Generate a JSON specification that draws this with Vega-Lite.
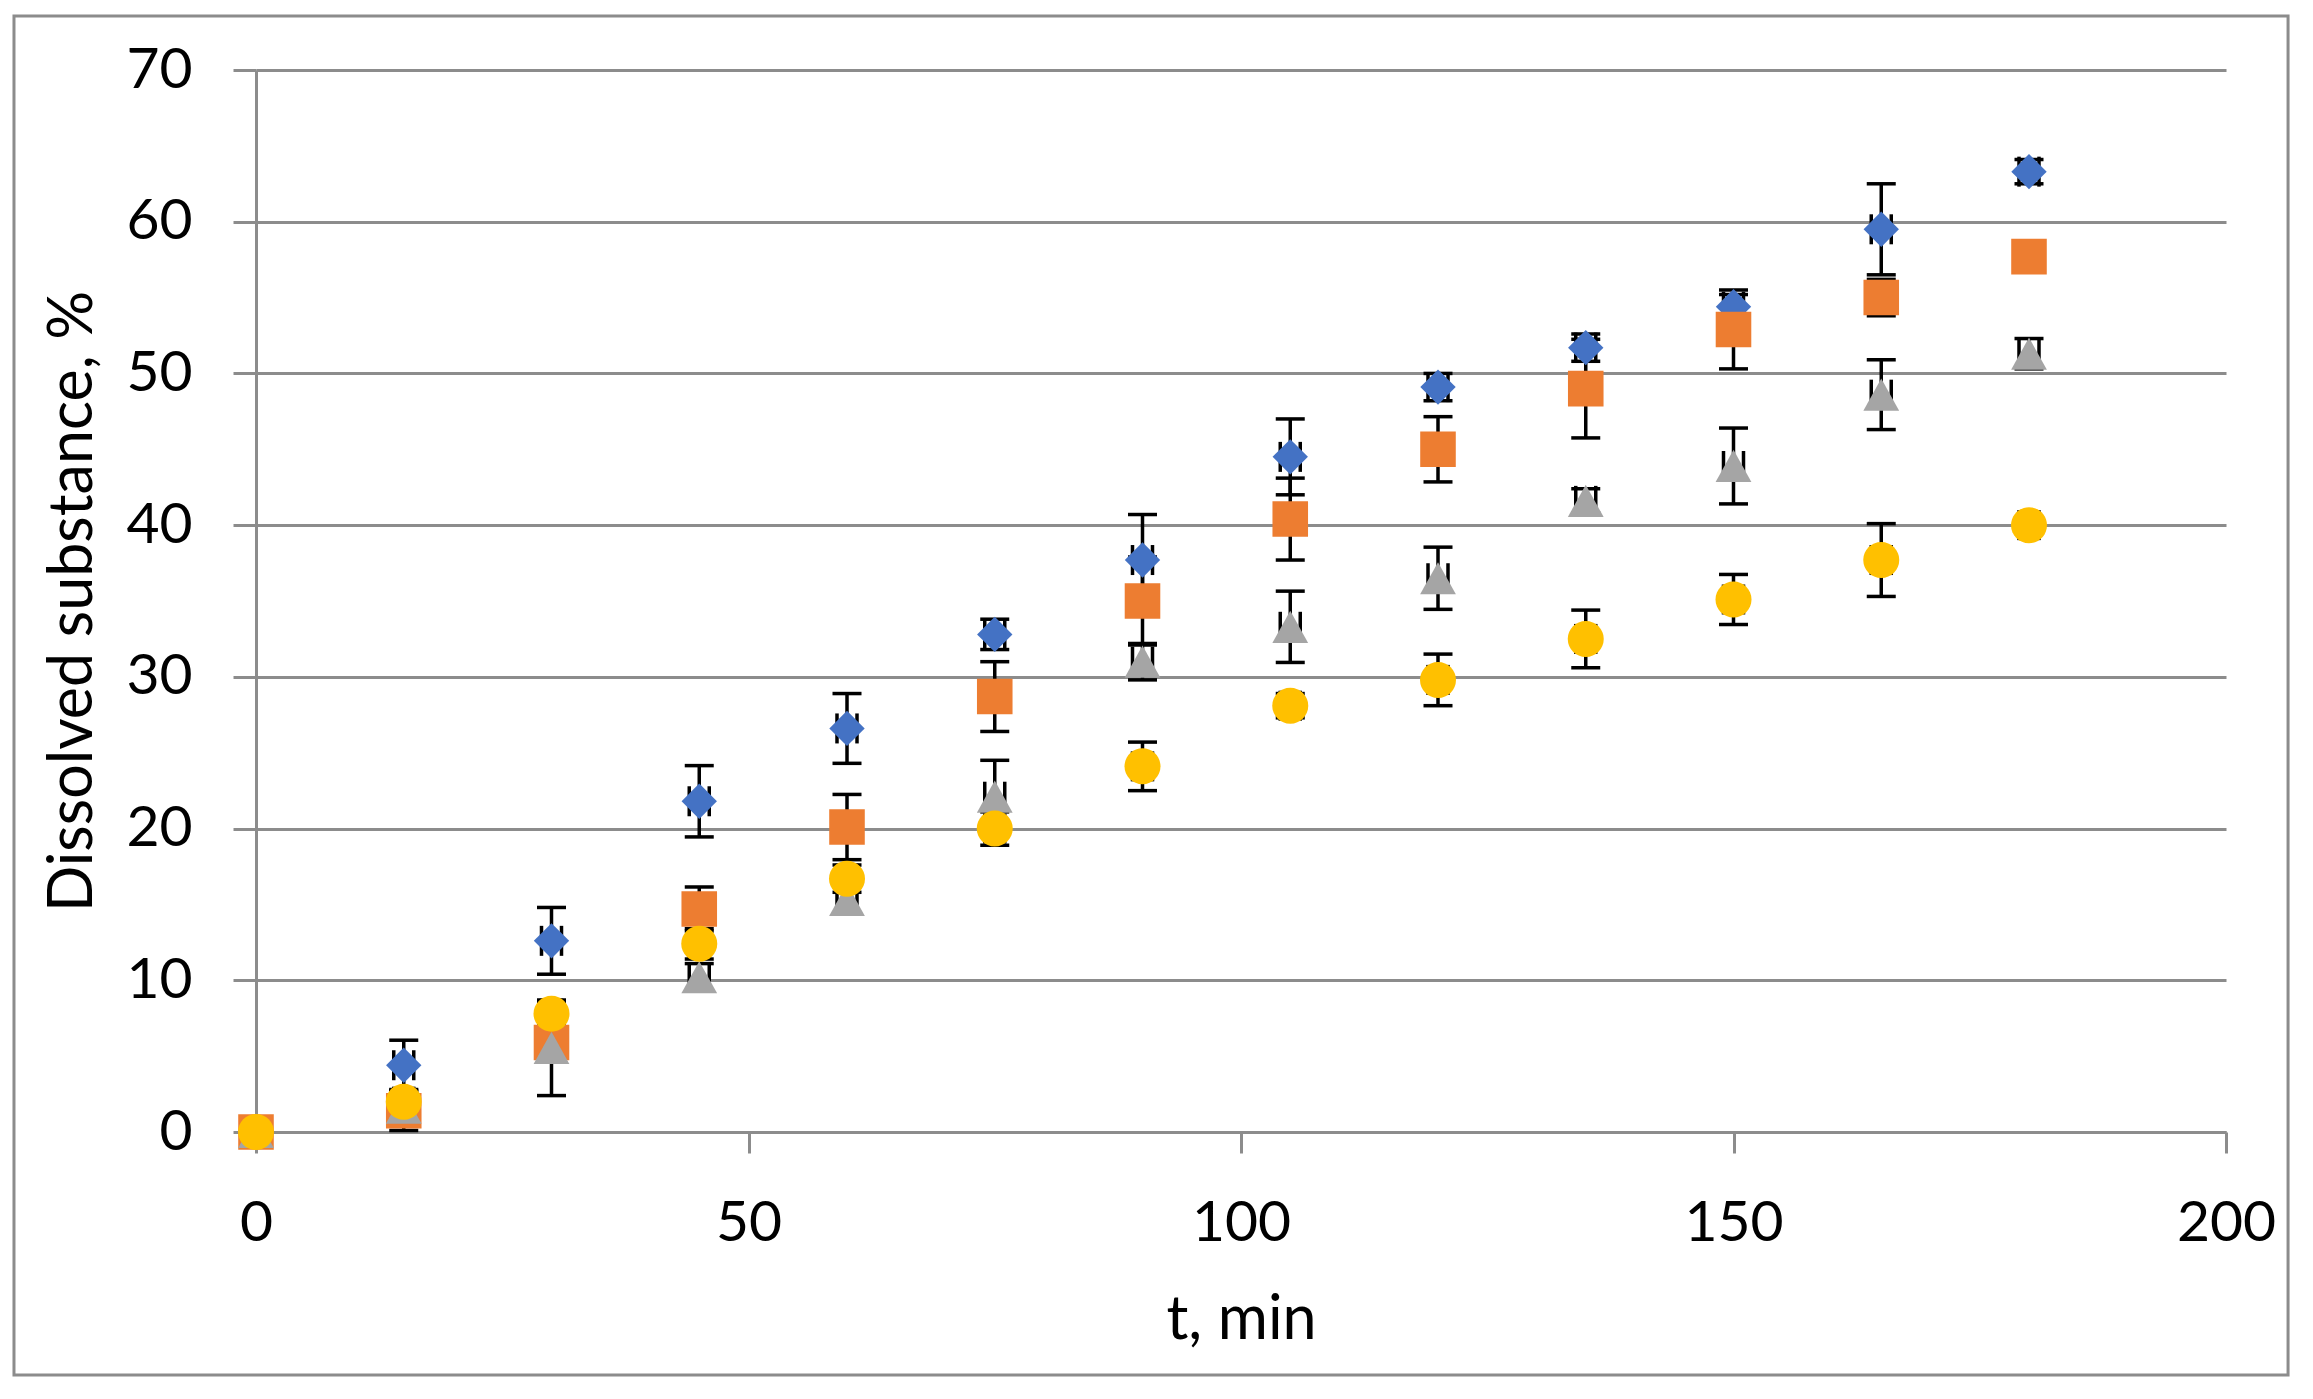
{
  "$schema": "https://vega.github.io/schema/vega-lite/v6.json",
  "autosize": {"type": "none"},
  "width": 1970,
  "height": 1062,
  "padding": {"left": 256, "top": 70, "right": 87, "bottom": 267},
  "background": "white",
  "config": {
    "view": {"stroke": null},
    "font": "Lato"
  },
  "data": {
    "values": [
      {"series": "A", "t": 0, "v": 0, "lo": 0, "hi": 0},
      {"series": "A", "t": 15, "v": 4.4, "lo": 2.75, "hi": 6.05},
      {"series": "A", "t": 30, "v": 12.6, "lo": 10.4, "hi": 14.8},
      {"series": "A", "t": 45, "v": 21.8, "lo": 19.45, "hi": 24.15},
      {"series": "A", "t": 60, "v": 26.6, "lo": 24.3, "hi": 28.9},
      {"series": "A", "t": 75, "v": 32.8, "lo": 31.8, "hi": 33.8},
      {"series": "A", "t": 90, "v": 37.7, "lo": 34.7, "hi": 40.7},
      {"series": "A", "t": 105, "v": 44.5, "lo": 42.0, "hi": 47.0},
      {"series": "A", "t": 120, "v": 49.1, "lo": 48.2, "hi": 50.0},
      {"series": "A", "t": 135, "v": 51.7, "lo": 50.8, "hi": 52.6},
      {"series": "A", "t": 150, "v": 54.4, "lo": 53.6, "hi": 55.2},
      {"series": "A", "t": 165, "v": 59.5, "lo": 56.5, "hi": 62.5},
      {"series": "A", "t": 180, "v": 63.3, "lo": 62.5, "hi": 64.1},
      {"series": "B", "t": 0, "v": 0, "lo": 0, "hi": 0},
      {"series": "B", "t": 15, "v": 1.4, "lo": 0.1, "hi": 2.7},
      {"series": "B", "t": 30, "v": 5.9, "lo": 5.1, "hi": 6.7},
      {"series": "B", "t": 45, "v": 14.7, "lo": 13.25, "hi": 16.15},
      {"series": "B", "t": 60, "v": 20.1, "lo": 17.95, "hi": 22.25},
      {"series": "B", "t": 75, "v": 28.7, "lo": 26.4, "hi": 31.0},
      {"series": "B", "t": 90, "v": 35.0, "lo": 32.1, "hi": 37.9},
      {"series": "B", "t": 105, "v": 40.4, "lo": 37.7, "hi": 43.1},
      {"series": "B", "t": 120, "v": 45.0, "lo": 42.85, "hi": 47.15},
      {"series": "B", "t": 135, "v": 49.0, "lo": 45.75, "hi": 52.25},
      {"series": "B", "t": 150, "v": 52.9, "lo": 50.3, "hi": 55.5},
      {"series": "B", "t": 165, "v": 55.0, "lo": 53.8, "hi": 56.2},
      {"series": "B", "t": 180, "v": 57.7, "lo": 57.2, "hi": 58.2},
      {"series": "C", "t": 0, "v": 0, "lo": 0, "hi": 0},
      {"series": "C", "t": 15, "v": 1.6, "lo": 1.1, "hi": 2.1},
      {"series": "C", "t": 30, "v": 5.55, "lo": 2.4, "hi": 8.7},
      {"series": "C", "t": 45, "v": 10.2, "lo": 9.3, "hi": 11.1},
      {"series": "C", "t": 60, "v": 15.3, "lo": 14.4, "hi": 16.2},
      {"series": "C", "t": 75, "v": 22.1, "lo": 19.7, "hi": 24.5},
      {"series": "C", "t": 90, "v": 31.0, "lo": 29.8, "hi": 32.2},
      {"series": "C", "t": 105, "v": 33.3, "lo": 30.95, "hi": 35.65},
      {"series": "C", "t": 120, "v": 36.5, "lo": 34.45, "hi": 38.55},
      {"series": "C", "t": 135, "v": 41.6, "lo": 40.8, "hi": 42.4},
      {"series": "C", "t": 150, "v": 43.9, "lo": 41.4, "hi": 46.4},
      {"series": "C", "t": 165, "v": 48.6, "lo": 46.3, "hi": 50.9},
      {"series": "C", "t": 180, "v": 51.3, "lo": 50.3, "hi": 52.3},
      {"series": "D", "t": 0, "v": 0, "lo": 0, "hi": 0},
      {"series": "D", "t": 15, "v": 2.0, "lo": 1.2, "hi": 2.8},
      {"series": "D", "t": 30, "v": 7.8, "lo": 7.0, "hi": 8.6},
      {"series": "D", "t": 45, "v": 12.4, "lo": 11.4, "hi": 13.4},
      {"series": "D", "t": 60, "v": 16.7, "lo": 15.8, "hi": 17.6},
      {"series": "D", "t": 75, "v": 20.0, "lo": 18.9, "hi": 21.1},
      {"series": "D", "t": 90, "v": 24.1, "lo": 22.5, "hi": 25.7},
      {"series": "D", "t": 105, "v": 28.1, "lo": 27.3, "hi": 28.9},
      {"series": "D", "t": 120, "v": 29.8, "lo": 28.1, "hi": 31.5},
      {"series": "D", "t": 135, "v": 32.5, "lo": 30.6, "hi": 34.4},
      {"series": "D", "t": 150, "v": 35.1, "lo": 33.45, "hi": 36.75},
      {"series": "D", "t": 165, "v": 37.7, "lo": 35.3, "hi": 40.1},
      {"series": "D", "t": 180, "v": 40.0, "lo": 39.5, "hi": 40.5}
    ]
  },
  "encoding": {
    "x": {
      "field": "t",
      "type": "quantitative",
      "scale": {"domain": [0, 200], "nice": false, "zero": false},
      "axis": {
        "values": [0, 50, 100, 150, 200],
        "grid": false,
        "domainColor": "#8c8c8c",
        "domainWidth": 3,
        "tickColor": "#8c8c8c",
        "tickWidth": 3,
        "tickSize": 21,
        "labelFont": "Lato",
        "labelFontSize": 57,
        "labelColor": "black",
        "labelPadding": 42,
        "labelFlush": false,
        "labelOverlap": false,
        "title": "t, min",
        "titleFont": "Lato",
        "titleFontSize": 61,
        "titleFontWeight": "normal",
        "titleColor": "black",
        "titleBaseline": "alphabetic",
        "titleY": 206
      }
    },
    "y": {
      "field": "v",
      "type": "quantitative",
      "scale": {"domain": [0, 70], "nice": false},
      "axis": {
        "values": [0, 10, 20, 30, 40, 50, 60, 70],
        "grid": true,
        "gridColor": "#8c8c8c",
        "gridWidth": 3,
        "gridOpacity": 1,
        "domainColor": "#8c8c8c",
        "domainWidth": 3,
        "tickColor": "#8c8c8c",
        "tickWidth": 3,
        "tickSize": 23,
        "labelFont": "Lato",
        "labelFontSize": 57,
        "labelColor": "black",
        "labelPadding": 41,
        "labelFlush": false,
        "labelOverlap": false,
        "title": "Dissolved substance, %",
        "titleFont": "Lato",
        "titleFontSize": 61,
        "titleFontWeight": "normal",
        "titleColor": "black",
        "titleBaseline": "alphabetic",
        "titleAngle": 270,
        "titleAlign": "center",
        "titleX": -165,
        "titleY": 531
      }
    }
  },
  "layer": [
    {
      "transform": [{"filter": "datum.series == 'A' && datum.t == 0"}],
      "mark": {"type": "rect", "filled": false, "color": "#8c8c8c", "strokeWidth": 3, "clip": false},
      "encoding": {
        "x": {"datum": -24.57, "type": "quantitative"},
        "x2": {"datum": 206.3},
        "y": {"datum": 73.56, "type": "quantitative"},
        "y2": {"datum": -16.02}
      }
    },
    {
      "mark": {"type": "rule", "color": "black", "strokeWidth": 3.5},
      "encoding": {
        "y": {"field": "lo", "type": "quantitative"},
        "y2": {"field": "hi"}
      }
    },
    {
      "mark": {"type": "tick", "orient": "horizontal", "color": "black", "size": 29, "thickness": 3.5, "opacity": 1},
      "encoding": {
        "y": {"field": "lo", "type": "quantitative"}
      }
    },
    {
      "mark": {"type": "tick", "orient": "horizontal", "color": "black", "size": 29, "thickness": 3.5, "opacity": 1},
      "encoding": {
        "y": {"field": "hi", "type": "quantitative"}
      }
    },
    {
      "mark": {"type": "tick", "orient": "vertical", "color": "black", "size": 30, "thickness": 3.5, "opacity": 1, "xOffset": -10},
      "encoding": {}
    },
    {
      "mark": {"type": "tick", "orient": "vertical", "color": "black", "size": 30, "thickness": 3.5, "opacity": 1, "xOffset": 10},
      "encoding": {}
    },
    {
      "mark": {"type": "point", "filled": true, "opacity": 1, "strokeWidth": 0},
      "encoding": {
        "shape": {
          "field": "series",
          "type": "nominal",
          "scale": {
            "domain": ["A", "B", "C", "D"],
            "range": [
              "M-1,0L0,-1L1,0L0,1Z",
              "M-1,-1H1V1H-1Z",
              "M0,-0.9L1,0.9L-1,0.9Z",
              "M1,0A1,1,0,1,1,-1,0A1,1,0,1,1,1,0Z"
            ]
          },
          "legend": null
        },
        "color": {
          "field": "series",
          "type": "nominal",
          "scale": {"domain": ["A", "B", "C", "D"], "range": ["#4472C4", "#ED7D31", "#A5A5A5", "#FFC000"]},
          "legend": null
        },
        "size": {
          "field": "series",
          "type": "nominal",
          "scale": {"domain": ["A", "B", "C", "D"], "range": [1250, 1296, 1150, 1330]},
          "legend": null
        }
      }
    }
  ]
}
